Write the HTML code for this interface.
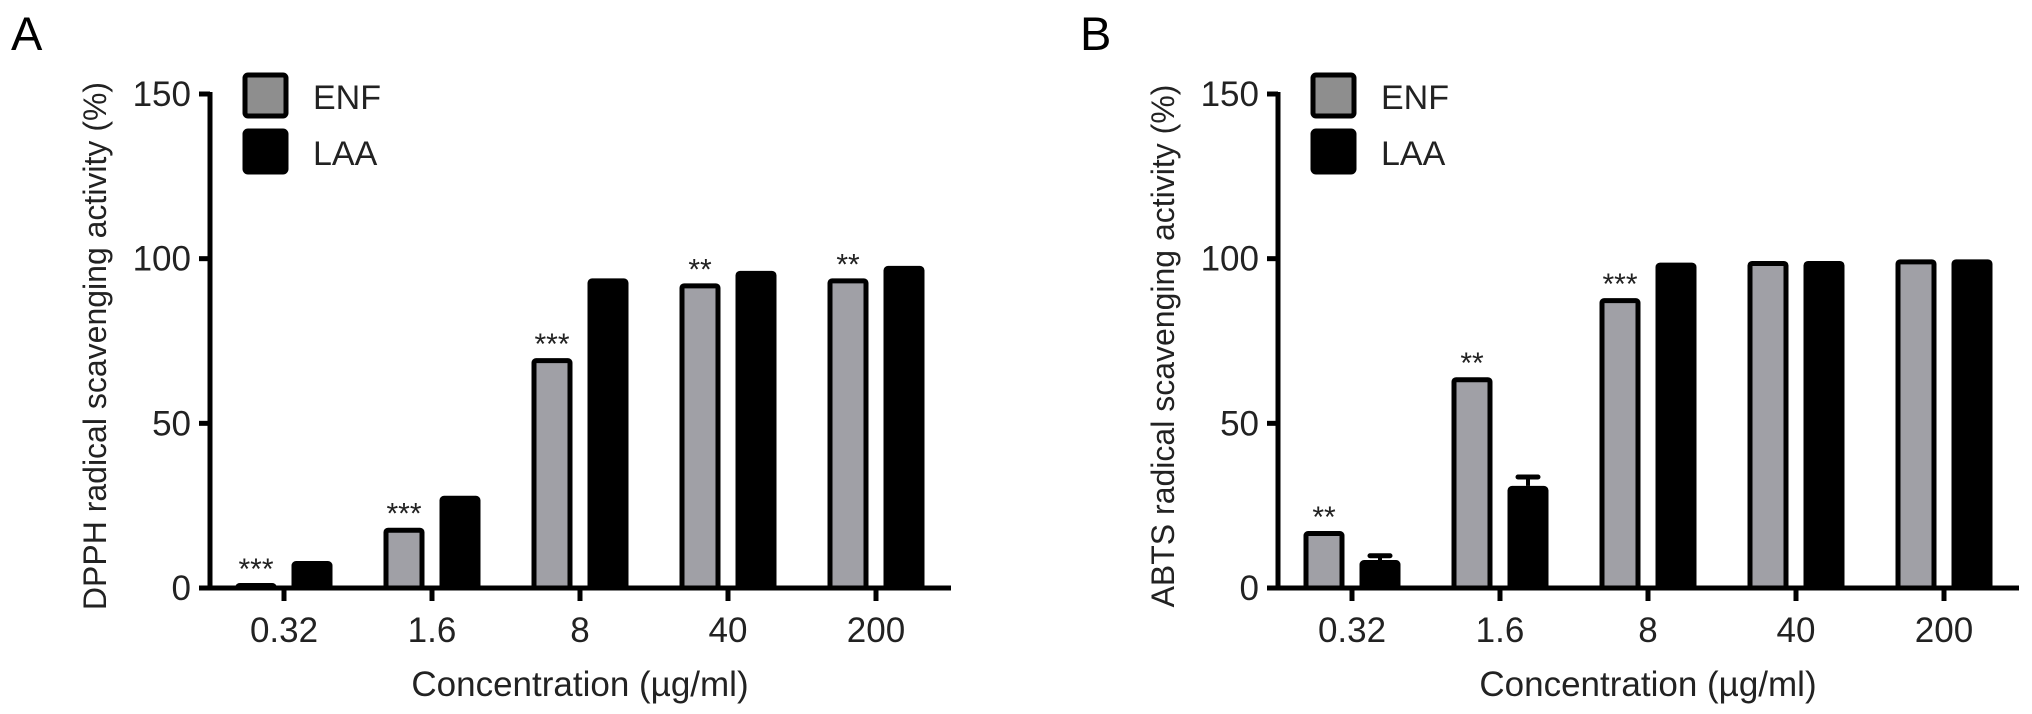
<!DOCTYPE html>
<html><head><meta charset="utf-8"><style>
html,body{margin:0;padding:0;background:#fff;}
svg{display:block;font-family:"Liberation Sans",Arial,sans-serif;}
</style></head><body>
<svg id="chart" width="2032" height="714" viewBox="0 0 2032 714" xmlns="http://www.w3.org/2000/svg"></svg>
<script>
const categories = ["0.32","1.6","8","40","200"];
const yTicks = [0,50,100,150];
const seriesNames = ["ENF","LAA"];
const dpphENF = [1.5,18.3,69.8,92.5,94];
const dpphLAA = [8.2,28,94,96.3,97.8];
const dpphENFerr = [0,0,0,0,0];
const dpphLAAerr = [0,0,0,0,0];
const dpphStars = ["***","***","***","**","**"];
const abtsENF = [17.3,64,88,99.3,99.8];
const abtsLAA = [8.5,31,98.8,99.3,99.8];
const abtsENFerr = [0,0,0,0,0];
const abtsLAAerr = [1.3,2.7,0,0,0];
const abtsStars = ["**","**","***","",""];

const NS="http://www.w3.org/2000/svg";
const svg=document.getElementById('chart');
function mk(tag,attrs,parent){const e=document.createElementNS(NS,tag);for(const k in attrs)e.setAttribute(k,attrs[k]);(parent||svg).appendChild(e);return e;}

function panel(cfg){
  const g=mk('g',{});
  
  
  const ax=cfg.axisX, y0=588, yTop=94, vmax=150;
  const yS=v=>y0-(v/vmax)*(y0-yTop);
  const gap=148, first=ax+74;
  const xS=i=>first+i*gap;
  const L=mk('text',{x:cfg.letterX,y:50,'font-size':47,fill:'#000'},g);L.textContent=cfg.letter;
  
  
  const ya=mk('line',{x1:ax,y1:yTop-2,x2:ax,y2:y0+2.5,stroke:'#000','stroke-width':5},g);
  
  
  yTicks.forEach(t=>{
    const y=yS(t);
    const tl=mk('line',{x1:ax-11,y1:y,x2:ax,y2:y,stroke:'#000','stroke-width':5},g);
    
    
    const tx=mk('text',{x:ax-19,y:y+12,'font-size':35,'text-anchor':'end',fill:'#222'},g);tx.textContent=t;
    
    
  });
  const xa=mk('line',{x1:ax-2.5,y1:y0,x2:xS(4)+75,y2:y0,stroke:'#000','stroke-width':5},g);
  
  
  categories.forEach((c,i)=>{
    const x=xS(i);
    const tl=mk('line',{x1:x,y1:y0,x2:x,y2:y0+13,stroke:'#000','stroke-width':5},g);
    
    
    const tx=mk('text',{x:x,y:642,'font-size':35,'text-anchor':'middle',fill:'#222'},g);tx.textContent=c;
    
    
    const drawBar=(v,err,cx,fill,nm)=>{
      const top=yS(v);
      if(err>0){
        const e=mk('line',{x1:cx,y1:yS(v+err),x2:cx,y2:top,stroke:'#000','stroke-width':4},g);
        
        
        const cap=mk('line',{x1:cx-10,y1:yS(v+err),x2:cx+10,y2:yS(v+err),stroke:'#000','stroke-width':5,'stroke-linecap':'round'},g);
        
        
      }
      const h=Math.max(y0-top-2.5,0.5);
      const r=mk('rect',{x:cx-18,y:top+2.5,width:36,height:h,fill:fill,stroke:'#000','stroke-width':5,rx:2},g);
      
      
      return top;
    };
    const tE=drawBar(cfg.enf[i],cfg.enfErr[i],x-28,'#a0a0a6','bar-enf-'+c);
    drawBar(cfg.laa[i],cfg.laaErr[i],x+28,'#000','bar-laa-'+c);
    if(cfg.stars[i]){
      const s=mk('text',{x:x-28,y:tE-4,'font-size':30,'text-anchor':'middle',fill:'#222'},g);s.textContent=cfg.stars[i];
      
      
    }
  });
  const xt=mk('text',{x:ax+370,y:696,'font-size':35,'text-anchor':'middle',fill:'#222'},g);xt.textContent='Concentration (\u00b5g/ml)';
  
  
  const yt=mk('text',{x:0,y:0,'font-size':32,'text-anchor':'middle',fill:'#222',transform:`translate(${ax-104},346) rotate(-90)`},g);yt.textContent=cfg.ytitle;
  
  
  const fills=['#8e8e8e','#000'];
  seriesNames.forEach((n,k)=>{
    const by=75+k*56;
    const r=mk('rect',{x:ax+35,y:by,width:41,height:41,fill:fills[k],stroke:'#000','stroke-width':5,rx:3},g);
    
    
    const t=mk('text',{x:ax+103,y:by+34,'font-size':34,fill:'#222'},g);t.textContent=n;
    
    
  });
}
panel({name:'panel-a-dpph',letter:'A',letterX:11,axisX:210,enf:dpphENF,laa:dpphLAA,enfErr:dpphENFerr,laaErr:dpphLAAerr,stars:dpphStars,ytitle:'DPPH radical scavenging activity (%)'});
panel({name:'panel-b-abts',letter:'B',letterX:1080,axisX:1278,enf:abtsENF,laa:abtsLAA,enfErr:abtsENFerr,laaErr:abtsLAAerr,stars:abtsStars,ytitle:'ABTS radical scavenging activity (%)'});
</script>
</body></html>
